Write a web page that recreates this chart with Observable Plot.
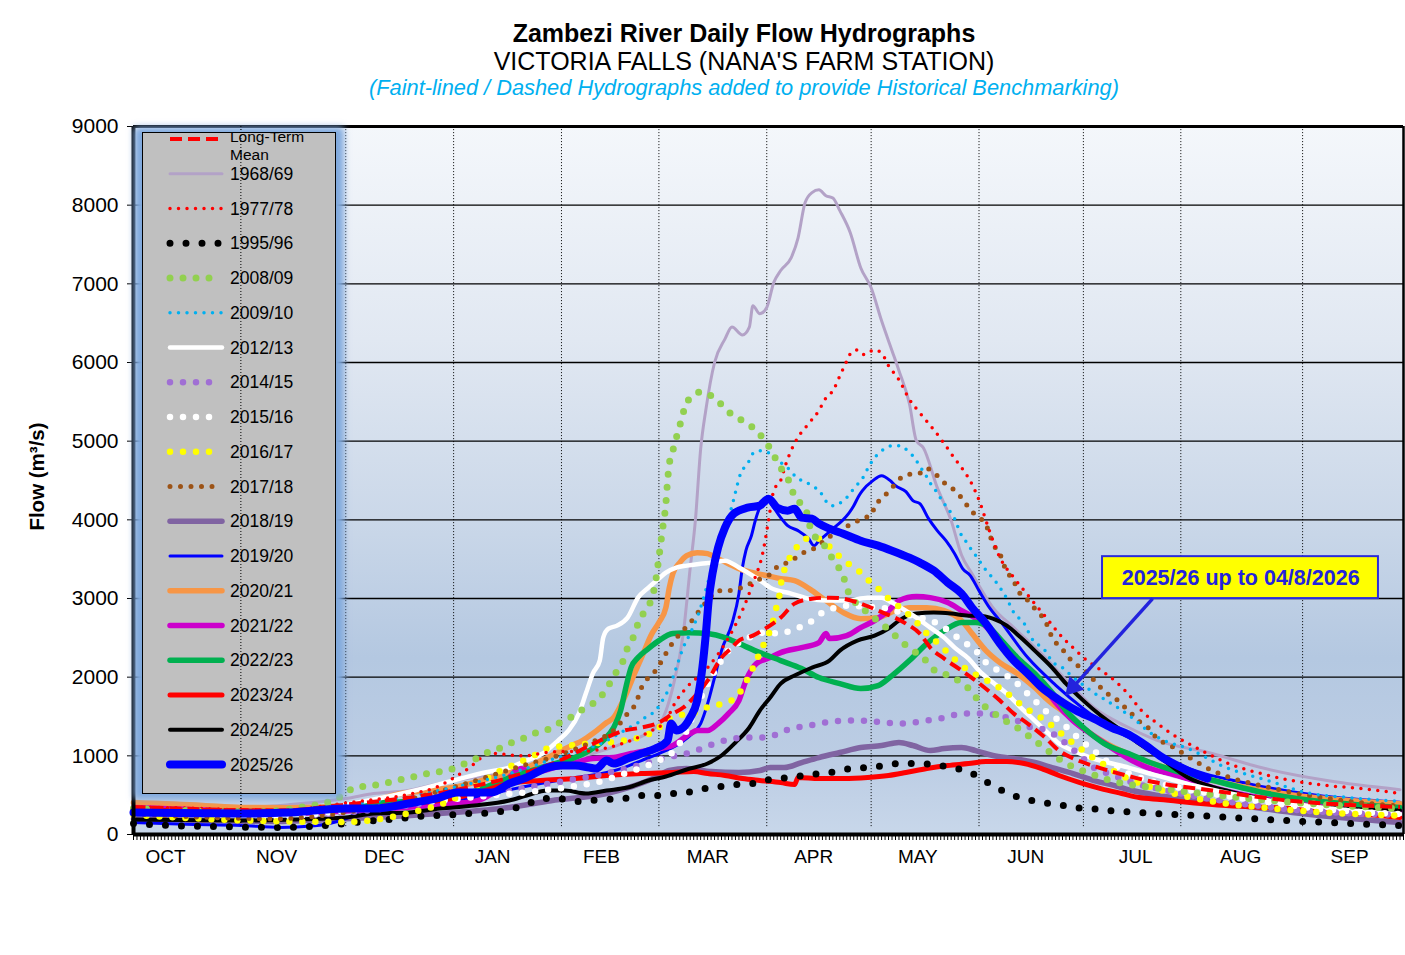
<!DOCTYPE html>
<html><head><meta charset="utf-8">
<script src="https://cdn.jsdelivr.net/npm/d3@7"></script>
<script src="https://cdn.jsdelivr.net/npm/@observablehq/plot@0.6"></script>
<style>
body{margin:0;background:#fff;font-family:"Liberation Sans",Arial,sans-serif;}
#titles{position:relative;height:100px;width:1405px;}
.t{position:absolute;left:83px;width:1322px;text-align:center;white-space:nowrap;color:#000;}
</style></head>
<body>
<div id="titles">
 <div class="t" style="top:18px;font-size:25px;font-weight:bold;line-height:30px">Zambezi River Daily Flow Hydrographs</div>
 <div class="t" style="top:46px;font-size:25px;line-height:30px">VICTORIA FALLS (NANA'S FARM STATION)</div>
 <div class="t" style="top:75px;font-size:21.8px;font-style:italic;color:#00b0f0;line-height:26px">(Faint-lined / Dashed Hydrographs added to provide Historical Benchmarking)</div>
</div>
<div id="chart"></div>
<script>
// x = day of hydrological year (0 = 1 Oct), y = flow m3/s
const monthNames = ["OCT","NOV","DEC","JAN","FEB","MAR","APR","MAY","JUN","JUL","AUG","SEP"];
const monthLabelDays = [9.2,41.1,72.1,103.2,134.5,165.1,195.5,225.4,256.4,288,318.2,349.5];
const gridDays = [31,61,92,123,151,182,212,243,273,301,336];
const yTicks = [0,1000,2000,3000,4000,5000,6000,7000,8000,9000];

const LTM = [[0,350],[20,320],[40,300],[61,380],[92,560],[110,750],[123,950],[132,1150],[141,1321],[146,1360],[151,1423],[155,1537],[158,1614],[161,1741],[165,1956],[169,2249],[172,2376],[174,2465],[178,2528],[182,2630],[186,2757],[190,2935],[195,2998],[200,3011],[204,2998],[209,2935],[214,2846],[222,2681],[226,2554],[229,2376],[233,2236],[238,2084],[242,1957],[249,1702],[253,1537],[257,1410],[262,1232],[266,1067],[271,950],[276,870],[282,790],[288,720],[294,660],[310,560],[330,440],[364,350]];
const Y1968 = [[0,410],[15,380],[31,345],[45,380],[61,457],[69,520],[79,560],[88,650],[97,720],[110,820],[125,950],[140,1150],[151,1400],[155,1870],[158,2550],[160,3390],[161.5,4000],[163,4900],[164.5,5400],[167,6000],[170,6300],[172,6450],[175,6350],[177,6450],[178,6720],[180,6620],[182,6700],[184,7015],[186,7170],[189,7330],[191,7585],[193,8030],[195,8160],[197,8195],[199,8120],[201,8090],[203,7930],[206,7650],[209,7205],[212,6950],[215,6530],[218,6150],[220,5895],[223,5476],[225,5006],[227,4917],[231,4409],[235,3990],[238,3550],[241,3316],[247,2884],[253,2630],[262,2249],[269,1918],[276,1614],[286,1360],[294,1200],[310,1030],[324,851],[343,686],[364,570]];
const Y1977 = [[0,350],[20,330],[40,300],[61,400],[80,520],[87,600],[95,800],[103,1030],[112,1000],[120,1050],[130,1060],[140,1150],[148,1300],[153,1450],[156,1700],[159,1870],[165,2120],[171,2500],[175,2850],[178,3190],[181,3610],[182.5,3990],[184,4370],[186,4500],[187.5,4710],[189,4880],[191,5050],[194,5220],[197,5390],[199,5550],[201,5640],[203,5830],[205,6020],[206,6110],[208,6160],[210,6100],[213,6160],[215,6120],[217,5960],[220,5780],[223,5530],[226,5360],[229,5200],[232,5030],[236,4780],[239,4600],[241,4450],[243,4250],[246,3860],[249,3520],[253,3265],[256,3100],[259,2935],[263,2720],[266,2554],[270,2375],[273,2250],[277,2120],[282,1955],[286,1780],[290,1560],[294,1420],[298,1290],[307,1067],[314,915],[324,775],[333,686],[343,622],[353,584],[364,521]];
const Y1995 = [[0,140],[10,115],[25,100],[40,90],[50,100],[61,140],[66,165],[71,180],[76,203],[80,216],[85,240],[90,240],[94,267],[99,267],[104,280],[108,318],[113,380],[117,457],[122,457],[127,420],[131,432],[136,445],[141,457],[145,495],[150,495],[155,521],[159,533],[164,584],[169,610],[173,635],[178,648],[183,700],[188,724],[193,750],[197,775],[202,800],[206,838],[211,851],[216,877],[220,902],[225,902],[230,889],[235,851],[240,800],[244,699],[248,597],[252,508],[256,457],[261,407],[266,381],[270,343],[275,330],[280,305],[284,292],[289,279],[294,267],[310,230],[330,180],[364,115]];
const Y2008 = [[0,330],[20,300],[35,290],[42,305],[51,368],[55,400],[59,470],[61,533],[64,600],[68,620],[72,650],[76,690],[80,730],[84,770],[88,800],[92,840],[94,877],[98,953],[101,1029],[105,1093],[108,1156],[112,1220],[115,1283],[119,1334],[122,1410],[126,1499],[129,1588],[132,1664],[135,1791],[137,1931],[139,2084],[141,2236],[142,2376],[144,2541],[145,2681],[147,2846],[149,3011],[150,3200],[151,3520],[152,3863],[153,4206],[153.5,4500],[154,4714],[155,4879],[156,5044],[157,5197],[158,5362],[159,5515],[160,5527],[163,5629],[166,5578],[169,5464],[172,5337],[175,5261],[178,5172],[181,5032],[183,4905],[185,4740],[187,4587],[189,4434],[190,4282],[193,4155],[195,3837],[198,3710],[200,3570],[202,3430],[204,3290],[205,3126],[211,2820],[215,2681],[218,2566],[221,2440],[224,2338],[227,2249],[229,2134],[232,2046],[235,2020],[238,1918],[241,1817],[243,1690],[246,1588],[249,1486],[253,1385],[256,1296],[259,1194],[262,1093],[265,991],[268,902],[272,826],[275,775],[279,711],[300,560],[330,420],[364,330]];
const Y2009 = [[0,330],[20,290],[40,270],[61,380],[75,450],[92,600],[110,800],[120,950],[136,1194],[141,1321],[145,1423],[147,1486],[150,1575],[152,1702],[154,1868],[156,2122],[158,2376],[160,2554],[163,2884],[165,3189],[167,3500],[169,3800],[170,3950],[171.5,4100],[172.5,4260],[173.5,4440],[174.5,4590],[176,4689],[177,4752],[178,4841],[180,4879],[182,4866],[184,4790],[186,4727],[188,4663],[189.5,4587],[191,4523],[193,4485],[195,4434],[197,4371],[198.5,4282],[199.5,4206],[201,4180],[204,4244],[205.5,4307],[207,4396],[208.5,4472],[210,4561],[211,4650],[212,4727],[213.5,4816],[215,4879],[216.5,4917],[218,4943],[220,4943],[221.5,4917],[223,4854],[224.5,4790],[226,4676],[227.5,4587],[228.5,4498],[230,4409],[231.5,4307],[233,4206],[234.5,4117],[236,4015],[237,3901],[238,3799],[239.5,3710],[241,3608],[242.5,3520],[244,3418],[248,3202],[251,2998],[253,2821],[256,2681],[258,2503],[262,2338],[264,2200],[267,2120],[270,2000],[273,1900],[276,1800],[279,1720],[284,1580],[288,1450],[292,1300],[296,1200],[303,1093],[314,851],[326,686],[337,533],[349,470],[364,420]];
const Y2012 = [[0,300],[20,270],[40,250],[61,380],[80,550],[94,711],[101,788],[108,851],[113,940],[118,1042],[122,1194],[125,1321],[128,1537],[130,1791],[132,2046],[134,2211],[135,2503],[136.5,2617],[139,2655],[142,2757],[145,3011],[148,3138],[151,3253],[153,3329],[156,3393],[159,3418],[163,3443],[166,3456],[170,3481],[174,3393],[177,3316],[181,3202],[183,3138],[189,3062],[194,2998],[199,2973],[205,2973],[211,3011],[215,3011],[218,2948],[221,2871],[225,2757],[229,2630],[233,2503],[236,2376],[240,2236],[243,2084],[247,1931],[251,1791],[255,1614],[259,1448],[263,1283],[266,1156],[270,1067],[275,978],[280,915],[286,851],[292,775],[305,620],[320,480],[340,350],[364,260]];
const Y2014 = [[0,300],[20,250],[40,230],[61,280],[92,450],[120,650],[140,820],[148,915],[152,965],[156,1004],[160,1042],[164,1105],[167,1156],[171,1207],[176,1232],[182,1232],[186,1296],[190,1360],[193,1372],[197,1410],[201,1436],[205,1448],[209,1448],[213,1436],[216,1423],[220,1410],[224,1423],[228,1448],[232,1474],[235,1512],[239,1537],[243,1537],[247,1524],[251,1486],[254,1448],[258,1360],[262,1334],[265,1258],[268,1156],[272,1004],[276,851],[280,775],[284,711],[288,648],[293,597],[310,450],[330,330],[364,250]];
const Y2015 = [[0,280],[20,250],[40,230],[61,300],[92,450],[128,622],[133,660],[142,788],[146,851],[151,940],[155,1050],[159,1321],[161,1537],[166,1995],[168,2147],[171,2338],[176,2480],[181,2566],[186,2554],[190,2617],[194,2681],[197,2795],[206,2909],[210,2897],[215,2884],[222,2800],[231,2681],[235,2566],[238,2465],[242,2338],[245,2185],[249,2071],[253,1957],[256,1830],[259,1702],[262,1575],[266,1448],[269,1334],[272,1207],[276,1067],[279,953],[283,851],[286,775],[290,711],[300,600],[320,450],[340,330],[364,260]];
const Y2016 = [[0,250],[20,200],[40,170],[61,160],[80,280],[92,450],[105,800],[115,1000],[119,1093],[130,1150],[141,1194],[150,1321],[154,1474],[163,1575],[166,1639],[170,1664],[174,1791],[179,2211],[182,2503],[183.5,2655],[184.5,2846],[185.5,2998],[186,3164],[187,3355],[188.5,3507],[190.5,3646],[193.5,3761],[196,3770],[199.7,3672],[202.3,3558],[205,3456],[208,3367],[211,3240],[214,3126],[217,2998],[220,2897],[226,2655],[228,2554],[231,2440],[234,2313],[237,2185],[240,2084],[243,2008],[247,1918],[250,1830],[253,1728],[256,1614],[259,1537],[262,1448],[265,1346],[268,1232],[271,1131],[274,1029],[278,915],[281,826],[284,750],[287,686],[291,622],[310,420],[330,320],[364,240]];
const Y2017 = [[0,260],[20,220],[40,200],[61,280],[92,600],[110,850],[125,1050],[133,1200],[138,1321],[140,1423],[142,1537],[144,1639],[145,1741],[146,1868],[148,1995],[150.5,2109],[152,2224],[155,2440],[159,2643],[161,2744],[163,2871],[165,2973],[168,3100],[171,3100],[174,3126],[179,3227],[184,3350],[185,3405],[188,3456],[190,3507],[192,3570],[194,3608],[197,3672],[199,3761],[202,3824],[204,3901],[207,3951],[209,4015],[212,4053],[213,4168],[215,4269],[217,4358],[219,4460],[221,4549],[224,4587],[227,4600],[228,4650],[231,4561],[233,4472],[235,4409],[237,4333],[239,4218],[241,4104],[243,4028],[245,3939],[246,3824],[247,3697],[249,3570],[250,3443],[251,3342],[253,3227],[254,3113],[256,3024],[260,2821],[262,2719],[263,2617],[264,2503],[266,2401],[268,2300],[270,2185],[273,2109],[275,2008],[277,1918],[279,1817],[282,1741],[284,1652],[286,1575],[289,1440],[291,1385],[294,1232],[299,1105],[304,965],[310,813],[317,699],[324,622],[340,480],[364,360]];
const Y2018 = [[0,200],[20,180],[40,165],[61,200],[69,216],[88,267],[108,343],[120,430],[136,521],[150,724],[154,813],[159,838],[166,800],[174,788],[180,813],[183,851],[187,851],[192,915],[197,978],[203,1042],[209,1105],[215,1131],[220,1169],[224,1131],[229,1067],[233,1093],[238,1105],[242,1067],[247,1004],[253,965],[259,915],[264,851],[270,775],[276,686],[282,622],[287,559],[294,500],[314,394],[333,280],[364,152]];
const Y2019 = [[0,152],[15,130],[31,115],[42,90],[52,110],[61,200],[69,368],[83,406],[98,470],[107,559],[117,648],[127,724],[136,788],[141,851],[146,940],[151,1029],[157,1156],[160.6,1283],[163,1410],[165,1664],[167,1995],[169,2338],[172,2681],[174,3062],[175,3393],[176,3608],[177.6,3799],[178.7,3990],[180,4155],[181,4206],[182,4269],[184,4155],[186,4028],[188,3926],[191,3863],[194,3761],[195.6,3672],[197,3735],[199.4,3824],[201,3888],[203.7,3990],[205.5,4078],[207,4180],[208.5,4307],[209.5,4371],[212.5,4498],[215,4561],[217.5,4498],[219,4434],[222,4358],[224,4244],[226,4206],[228.5,4015],[231,3863],[233.5,3735],[236,3570],[238.3,3380],[240.5,3291],[243,3100],[246,2884],[249,2719],[257,2249],[265,1900],[273,1600],[281,1350],[290,1150],[300,900],[320,650],[340,500],[364,410]];
const Y2020 = [[0,406],[20,370],[31,343],[45,340],[61,368],[69,432],[77,521],[85,559],[92,600],[100,686],[107,775],[113,851],[119,978],[123,1067],[126,1131],[129,1194],[132,1283],[136,1423],[138,1486],[140,1639],[142,1830],[144,2046],[146,2249],[149,2554],[151,2694],[153,2884],[154,3138],[155,3316],[157,3456],[159,3545],[162,3583],[165,3570],[168,3507],[171,3443],[174,3380],[178,3329],[182,3291],[186,3253],[190,3227],[195,3100],[199,2973],[204,2821],[209,2744],[214,2757],[219,2846],[223,2884],[228,2884],[233,2846],[238,2719],[241,2554],[245,2338],[249,2185],[254,2046],[259,1868],[263,1702],[268,1537],[272,1385],[280,1150],[290,950],[310,690],[330,520],[364,390]];
const Y2021 = [[0,343],[20,310],[31,290],[45,270],[61,300],[80,350],[92,394],[98,420],[103,521],[108,724],[111,838],[115,788],[121,851],[126,902],[132,965],[138,978],[143,1029],[149,1080],[155,1131],[160,1283],[162,1321],[165,1321],[168,1410],[171,1537],[174,1702],[176,1956],[179,2173],[183,2249],[186,2312],[192,2376],[197,2440],[199,2554],[200,2490],[205,2528],[209,2630],[213,2719],[217,2846],[220,2973],[225,3024],[229,3011],[234,2948],[238,2846],[243,2719],[247,2554],[251,2338],[256,2122],[261,1918],[265,1677],[270,1448],[275,1283],[281,1105],[287,940],[294,813],[298,775],[310,600],[330,420],[364,300]];
const Y2022 = [[0,310],[20,285],[31,270],[45,290],[61,368],[92,480],[110,750],[121,902],[126,965],[131,1067],[135,1194],[138,1360],[140,1575],[141.5,1868],[143,2122],[145,2249],[148,2363],[151,2465],[155,2554],[160,2566],[165,2554],[170,2503],[174,2427],[180,2312],[186,2211],[192,2109],[197,1995],[203,1918],[209,1855],[214,1893],[218,2020],[223,2211],[228,2427],[233,2592],[238,2694],[242,2694],[246,2630],[249,2490],[254,2249],[259,2046],[264,1804],[268,1575],[273,1360],[279,1156],[286,1029],[293,902],[300,800],[307,724],[326,521],[364,343]];
const Y2023 = [[0,305],[20,305],[31,305],[45,300],[61,310],[69,343],[79,394],[88,432],[98,521],[108,648],[117,686],[127,711],[136,750],[146,775],[155,788],[161,800],[165,775],[170,750],[175,711],[180,686],[186,660],[190,635],[191,724],[197,711],[204,711],[211,724],[217,750],[222,788],[228,838],[234,877],[240,902],[245,928],[251,928],[256,902],[261,838],[266,750],[272,660],[278,584],[284,521],[289,470],[295,445],[314,368],[333,330],[364,216]];
const Y2024 = [[0,190],[20,180],[31,178],[45,190],[61,216],[69,267],[79,280],[88,330],[98,368],[108,432],[113,495],[119,559],[124,559],[130,521],[136,559],[142,597],[148,686],[153,737],[159,826],[165,902],[169,1004],[173,1169],[177,1360],[180,1575],[183,1741],[186,1918],[190,2020],[195,2122],[200,2211],[203,2338],[208,2465],[213,2528],[217,2617],[220,2719],[225,2808],[230,2821],[235,2808],[240,2782],[243,2782],[247,2744],[251,2655],[255,2503],[259,2338],[264,2122],[268,1918],[273,1702],[278,1512],[284,1321],[289,1156],[295,978],[303,724],[314,559],[324,457],[343,343],[364,305]];
const Y2025 = [[0,280],[20,270],[31,267],[45,280],[61,330],[69,330],[79,394],[88,470],[93,533],[98,533],[103,533],[108,648],[113,724],[119,851],[123,877],[127,877],[131,851],[133,838],[136,940],[138,902],[142,965],[146,1029],[150,1093],[153.5,1194],[154.5,1410],[156,1321],[158,1360],[160,1486],[162,1702],[163.5,2122],[164.5,2554],[165.3,2973],[166.4,3316],[168,3646],[170,3901],[172.5,4078],[176.5,4155],[180,4180],[181,4218],[182.5,4269],[185,4155],[188,4117],[190,4142],[192,4028],[195,4015],[197,3951],[200,3888],[204,3824],[209,3735],[214,3672],[218,3608],[223,3519],[226,3456],[230,3355],[234,3202],[238,3062],[241,2884],[245,2681],[249,2427],[253,2211],[257,2046],[261,1868],[266,1710],[271,1575],[276,1474],[281,1360],[286,1270],[291,1130],[295,1000],[303,813],[308.6,711]];

const seriesNames = ["Long-Term Mean","1968/69","1977/78","1995/96","2008/09","2009/10","2012/13","2014/15","2015/16","2016/17","2017/18","2018/19","2019/20","2020/21","2021/22","2022/23","2023/24","2024/25","2025/26"];
const seriesData = [LTM,Y1968,Y1977,Y1995,Y2008,Y2009,Y2012,Y2014,Y2015,Y2016,Y2017,Y2018,Y2019,Y2020,Y2021,Y2022,Y2023,Y2024,Y2025];
// styles: [colour, width, dasharray, linecap]
const seriesStyles = [
  ["#ff0000",4,"12 6","butt"],
  ["#b3a2c7",3,null,"round"],
  ["#ff0000",3.5,"0 8.5","round"],
  ["#000000",7,"0 16","round"],
  ["#92d050",7,"0 13","round"],
  ["#00b0f0",3.5,"0 8.5","round"],
  ["#ffffff",4.5,null,"round"],
  ["#a06fd4",6.5,"0 13","round"],
  ["#ffffff",6.5,"0 13","round"],
  ["#ffff00",6.5,"0 13","round"],
  ["#9c5316",5,"0 10.5","round"],
  ["#8064a2",5.5,null,"round"],
  ["#0000ff",3,null,"round"],
  ["#f79646",5.5,null,"round"],
  ["#cc00cc",5.5,null,"round"],
  ["#00b050",5.5,null,"round"],
  ["#ff0000",5,null,"round"],
  ["#000000",4,null,"round"],
  ["#0000ff",8,null,"round"]
];
const drawOrder = ["1968/69","2018/19","2019/20","2020/21","2021/22","2022/23","2023/24","2024/25","1995/96","2012/13","2014/15","2015/16","2016/17","2017/18","2009/10","1977/78","2008/09","Long-Term Mean","2025/26"];

const annotBox = [{x1: 278.5, x2: 357.8, y1: 2999, y2: 3532, label: "2025/26 up to 04/8/2026", lx: 318.2, ly: 3265}];
const annotArrow = [{x1: 292.9, y1: 2999, x2: 268.1, y2: 1779}];

// arrow head direction (pixel geometry of the frame: 1270px / 365 days, 708px / 9000)
const pxX = 1270 / 365, pxY = 708 / 9000;
const arrowHeads = annotArrow.map(a => {
  const dx = (a.x2 - a.x1) * pxX, dy = -(a.y2 - a.y1) * pxY;
  const len = Math.hypot(dx, dy), ux = dx / len, uy = dy / len;
  const back = 10;
  return {x: a.x2 - ux * back / pxX, y: a.y2 + uy * back / pxY, rot: Math.atan2(ux, -uy) * 180 / Math.PI};
});
const arrowShaft = annotArrow.map((a, i) => ({x1: a.x1, y1: a.y1, x2: arrowHeads[i].x, y2: arrowHeads[i].y}));

const lineMarks = drawOrder.map(name => {
  const i = seriesNames.indexOf(name);
  const [c, w, dash, cap] = seriesStyles[i];
  return Plot.line(seriesData[i], {
    x: d => d[0], y: d => d[1], stroke: c, strokeWidth: w,
    strokeDasharray: dash || undefined, strokeLinecap: cap, strokeLinejoin: "round",
    curve: "monotone-x"
  });
});

const chart = Plot.plot({
  width: 1405, height: 800,
  marginTop: 26, marginBottom: 66, marginLeft: 133, marginRight: 2,
  x: {domain: [0, 365]},
  y: {domain: [0, 9000]},
  style: {fontFamily: "'Liberation Sans', Arial, sans-serif", background: "transparent", color: "#000", overflow: "visible"},
  marks: [
    Plot.frame({fill: "url(#plotBg)", stroke: "none"}),
    Plot.ruleY(yTicks.filter(v => v > 0 && v < 9000), {stroke: "#000", strokeWidth: 1.4}),
    Plot.ruleX(gridDays, {y1: 100, y2: 9000, stroke: "#000", strokeWidth: 1, strokeDasharray: "1 2"}),
    ...lineMarks,
    Plot.ruleX([0], {stroke: "#000", strokeWidth: 4}),
    Plot.ruleX([365], {stroke: "#000", strokeWidth: 2.5}),
    Plot.ruleY([9000], {stroke: "#000", strokeWidth: 3}),
    Plot.ruleY([0], {stroke: "#000", strokeWidth: 4}),
    Plot.axisY({ticks: yTicks, tickSize: 6, tickPadding: 9, fontSize: 21, tickFormat: "d", label: null, anchor: "left"}),
    Plot.axisX({ticks: d3.range(0, 366), tickSize: 6, tickFormat: () => "", label: null, anchor: "bottom"}),
    Plot.axisX({ticks: monthLabelDays, tickSize: 0, tickPadding: 15, fontSize: 19, tickFormat: d => monthNames[monthLabelDays.indexOf(d)], label: null, anchor: "bottom"}),
    Plot.text(["Flow (m³/s)"], {frameAnchor: "left", dx: -96, dy: -4, rotate: -90, textAnchor: "middle", fontSize: 20.5, fontWeight: "bold"}),
    Plot.rect(annotBox, {x1: "x1", x2: "x2", y1: "y1", y2: "y2", fill: "#ffff00", stroke: "#2b2bd9", strokeWidth: 2}),
    Plot.text(annotBox, {x: "lx", y: "ly", text: "label", fill: "#2323dd", fontWeight: "bold", fontSize: 21.5}),
    Plot.link(arrowShaft, {x1: "x1", y1: "y1", x2: "x2", y2: "y2", stroke: "#2323dd", strokeWidth: 3.5}),
    Plot.dot(arrowHeads, {x: "x", y: "y", symbol: "triangle", r: 7.5, fill: "#2323dd", stroke: "none", rotate: "rot"})
  ]
});

const svg = d3.select(chart);
const defs = svg.insert("defs", ":first-child");
const grad = defs.append("linearGradient").attr("id", "plotBg").attr("x1", 0).attr("y1", 0).attr("x2", 0).attr("y2", 1);
[[0, "#f4f7fb"], [0.3, "#e1e8f2"], [0.55, "#cbd8e9"], [0.75, "#b4c8e1"], [0.9, "#bccde4"], [1, "#c8d7ea"]].forEach(([o, c]) =>
  grad.append("stop").attr("offset", o).attr("stop-color", c));
const filt = defs.append("filter").attr("id", "glow").attr("x", "-20%").attr("y", "-5%").attr("width", "140%").attr("height", "110%");
filt.append("feGaussianBlur").attr("stdDeviation", 3.5);

const xs = chart.scale("x"), ys = chart.scale("y");

// legend
const lg = svg.append("g").attr("font-family", "'Liberation Sans', Arial, sans-serif").attr("text-anchor", "start");
lg.append("rect").attr("x", 134).attr("y", 27).attr("width", 210).attr("height", 672).attr("fill", "#7fa8dd").attr("filter", "url(#glow)");
lg.append("rect").attr("x", 142.5).attr("y", 32.5).attr("width", 193).attr("height", 661).attr("fill", "#c0c0c0").attr("stroke", "#000").attr("stroke-width", 1);
seriesNames.forEach((name, i) => {
  const y = 39 + 34.75 * i;
  const [c, w, dash, cap] = seriesStyles[i];
  lg.append("line").attr("x1", 170).attr("x2", 222).attr("y1", y).attr("y2", y)
    .attr("stroke", c).attr("stroke-width", w).attr("stroke-linecap", cap)
    .attr("stroke-dasharray", dash);
  if (i === 0) {
    [["Long-Term", -2.5], ["Mean", 15.5]].forEach(([txt, off]) => {
      lg.append("text").attr("x", 230).attr("y", y + off).attr("dy", "0.35em")
        .attr("font-size", 15.5).attr("text-anchor", "start").attr("fill", "#000").text(txt);
    });
  } else {
    lg.append("text").attr("x", 230).attr("y", y).attr("dy", "0.35em")
      .attr("font-size", 17.5).attr("text-anchor", "start").attr("fill", "#000").text(name);
  }
});
// month gridline visible through legend
[31].forEach(dd => {
  svg.append("line").attr("x1", xs.apply(dd)).attr("x2", xs.apply(dd)).attr("y1", ys.apply(9000)).attr("y2", ys.apply(100))
    .attr("stroke", "#000").attr("stroke-width", 1).attr("stroke-dasharray", "1 2");
});

document.getElementById("chart").appendChild(chart);
</script>
</body></html>
